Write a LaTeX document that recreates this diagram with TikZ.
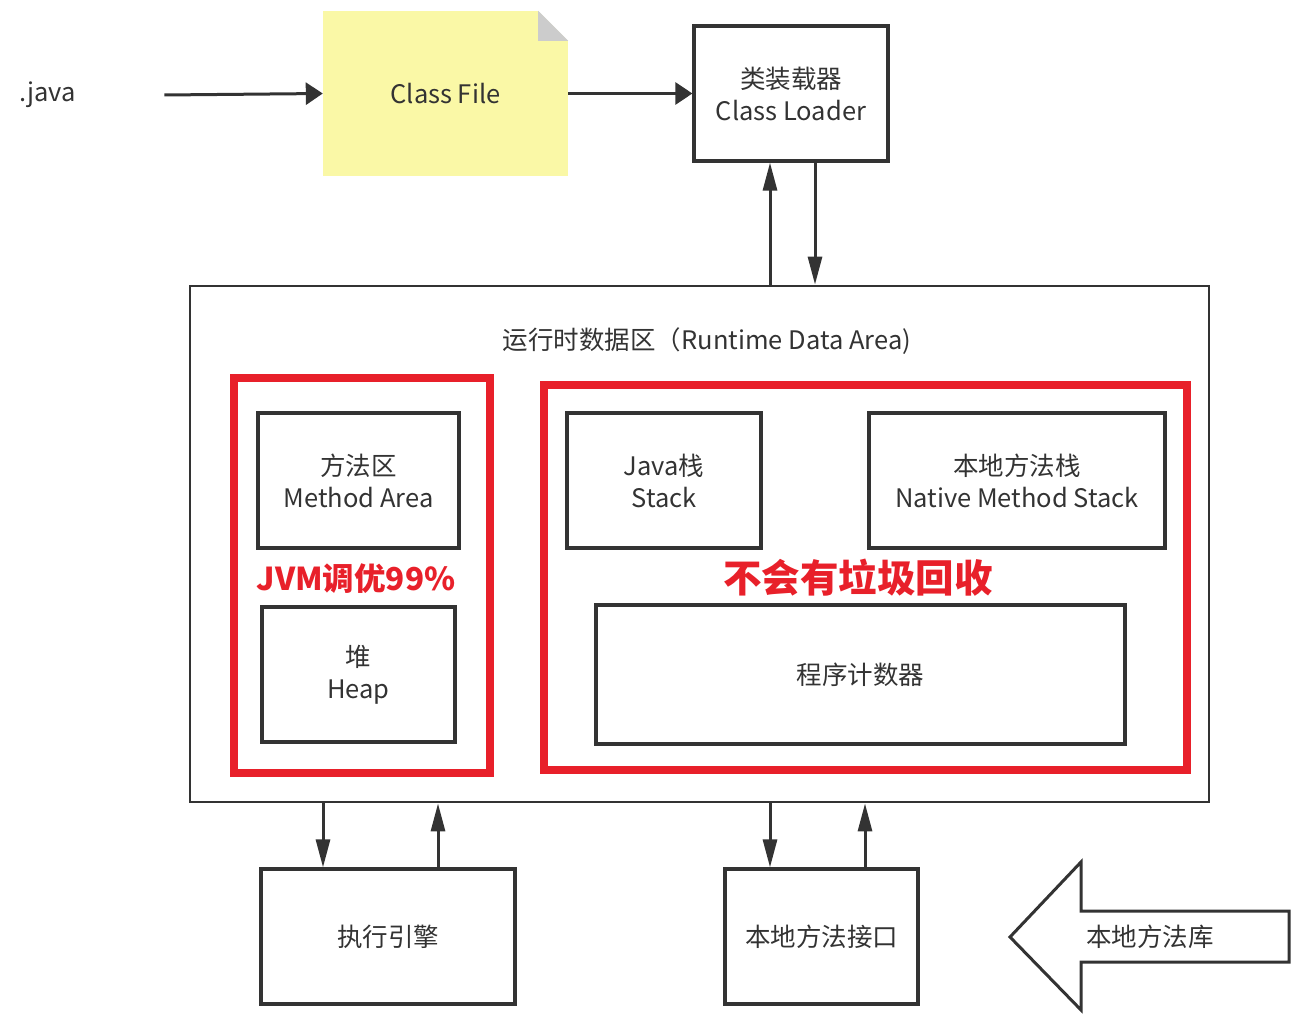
\documentclass[tikz,border=0pt]{standalone}
\usepackage{fontspec}
\setmainfont{Noto Sans CJK SC}
\usetikzlibrary{arrows.meta,calc}
\definecolor{ink}{HTML}{333333}
\definecolor{redline}{HTML}{E8202A}
\definecolor{noteyellow}{HTML}{FAF8A6}
\definecolor{foldgray}{HTML}{CCCCCC}
\tikzset{
  box/.style={draw=ink, line width=3.2pt, rectangle, inner sep=0pt, align=center, text=ink,
    font=\fontsize{25.5}{32}\selectfont},
  redbox/.style={draw=redline, line width=8pt, rectangle, inner sep=0pt},
  hArrow/.style={draw=ink, line width=3pt, -{Triangle[length=17pt,width=22pt]}},
  vArrow/.style={draw=ink, line width=3pt, -{Triangle[length=28pt,width=14pt]}},
  lbl/.style={text=ink, inner sep=0pt, font=\fontsize{25.5}{32}\selectfont},
  redtxt/.style={text=redline, inner sep=0pt},
}
\begin{document}
\begin{tikzpicture}[x=1pt,y=-1pt]
\useasboundingbox (0,0) rectangle (1296,1030);
% .java
\node[lbl, anchor=west, text width=145pt, align=left] (java) at (19,95) {.java};
% Class File note
\node[fill=noteyellow, inner sep=0pt, minimum width=245pt, minimum height=165pt, text=ink,
  font=\fontsize{25.5}{32}\selectfont] (cf) at (445.5,93.5) {Class File};
\fill[white] ($(cf.north east)+(-30,0)$) -- (cf.north east) -- ($(cf.north east)+(0,30)$) -- cycle;
\fill[foldgray] ($(cf.north east)+(-30,0)$) -- ($(cf.north east)+(0,30)$) -- ($(cf.north east)+(-30,30)$) -- cycle;
% Class Loader
\node[box, minimum width=194pt, minimum height=135pt] (cl) at (791,93.5) {类装载器\\Class Loader};
\draw[hArrow] (java.east) -- (cf.west);
\draw[hArrow] (cf.east) -- (cl.west);
% Runtime data area
\node[box, line width=2.8pt, minimum width=1019pt, minimum height=516pt] (rt) at (699.5,544) {};
\node[lbl] (rttitle) at (707,341) {运行时数据区（Runtime Data Area)};
\coordinate (clu) at ($(cl.south)+(-21,0)$);
\coordinate (cld) at ($(cl.south)+(24,0)$);
\draw[vArrow] (clu |- rt.north) -- (clu);
\draw[vArrow] (cld) -- (cld |- rt.north);
% left red group
\node[redbox, minimum width=256pt, minimum height=395pt] (redL) at (362,575.5) {};
\node[box, minimum width=201pt, minimum height=135pt] (ma) at (358.5,480.5) {方法区\\Method Area};
\node[redtxt, font=\bfseries\fontsize{31.5}{36}\selectfont] (jvm) at (356,579) {JVM调优99\%};
\node[box, minimum width=193pt, minimum height=135pt] (heap) at (358.5,674.5) {堆\\Heap};
% right red group
\node[redbox, minimum width=643pt, minimum height=385pt] (redR) at (865.5,577.5) {};
\node[box, minimum width=194pt, minimum height=135pt] (js) at (664,480.5) {Java栈\\Stack};
\node[box, minimum width=296pt, minimum height=135pt] (nms) at (1017,480.5) {本地方法栈\\Native Method Stack};
\node[redtxt, font=\bfseries\fontsize{38.5}{44}\selectfont] (nogc) at (858,578) {不会有垃圾回收};
\node[box, minimum width=529pt, minimum height=139pt] (pc) at (860.5,674.5) {程序计数器};
% bottom
\node[box, minimum width=254pt, minimum height=135pt] (ee) at (388,936.5) {执行引擎};
\node[box, minimum width=193pt, minimum height=135pt] (nmi) at (821.5,936.5) {本地方法接口};
\coordinate (eed) at ($(ee.north)+(-65,0)$);
\coordinate (eeu) at ($(ee.north)+(50,0)$);
\draw[vArrow] (eed |- rt.south) -- (eed);
\draw[vArrow] (eeu) -- (eeu |- rt.south);
\coordinate (nmid) at ($(nmi.north)+(-51.5,0)$);
\coordinate (nmiu) at ($(nmi.north)+(43.5,0)$);
\draw[vArrow] (nmid |- rt.south) -- (nmid);
\draw[vArrow] (nmiu) -- (nmiu |- rt.south);
% big arrow
\draw[ink, line width=3pt, line join=miter, fill=white] (1010,937) -- (1081,862) -- (1081,911) -- (1289,911)
  -- (1289,962) -- (1081,962) -- (1081,1010) -- cycle;
\node[lbl] (nml) at (1150,937) {本地方法库};
\end{tikzpicture}
\end{document}
